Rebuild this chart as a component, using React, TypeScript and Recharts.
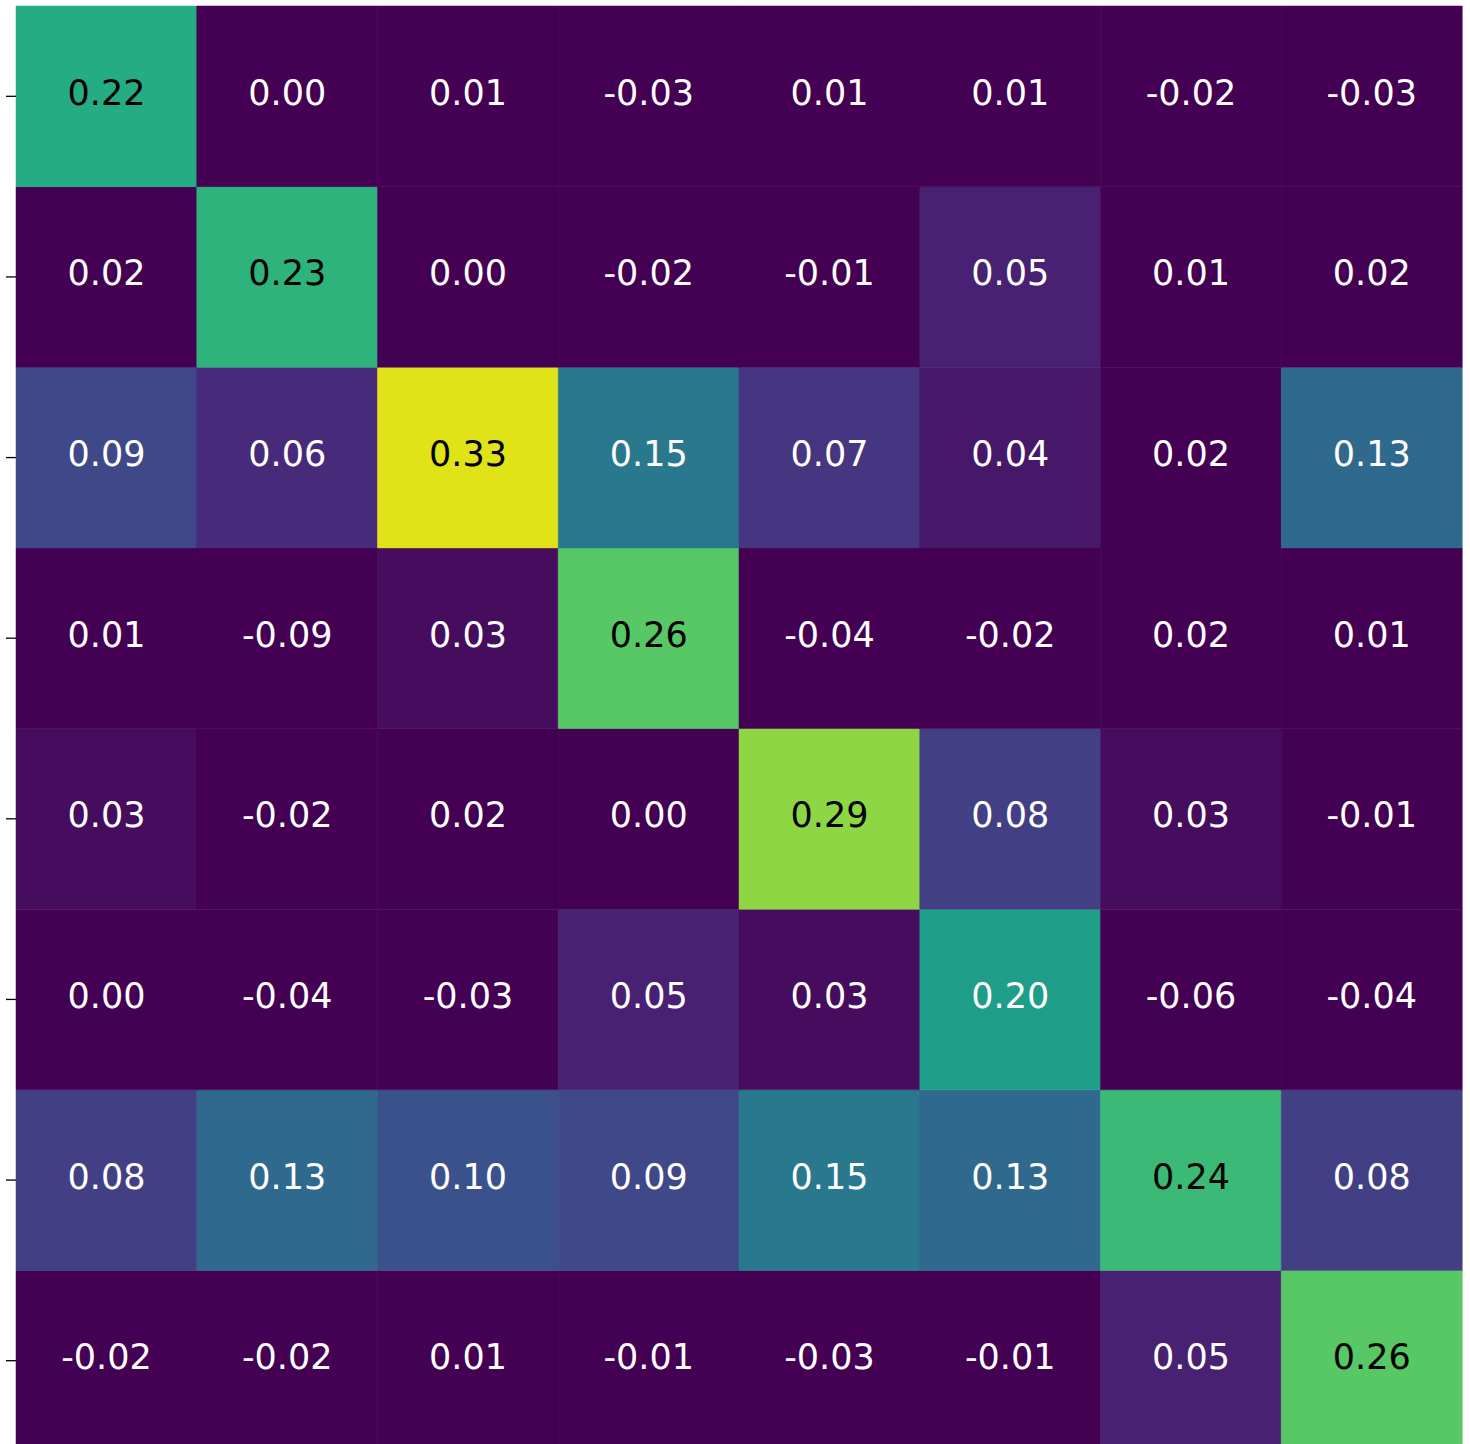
import { BarChart, Bar, XAxis, YAxis, Cell, LabelList } from "recharts";

// column categories of the matrix
const columns = ["c1", "c2", "c3", "c4", "c5", "c6", "c7", "c8"];

// matrix rows, top to bottom
const row1 = [0.22, 0.0, 0.01, -0.03, 0.01, 0.01, -0.02, -0.03];
const row2 = [0.02, 0.23, 0.0, -0.02, -0.01, 0.05, 0.01, 0.02];
const row3 = [0.09, 0.06, 0.33, 0.15, 0.07, 0.04, 0.02, 0.13];
const row4 = [0.01, -0.09, 0.03, 0.26, -0.04, -0.02, 0.02, 0.01];
const row5 = [0.03, -0.02, 0.02, 0.0, 0.29, 0.08, 0.03, -0.01];
const row6 = [0.0, -0.04, -0.03, 0.05, 0.03, 0.2, -0.06, -0.04];
const row7 = [0.08, 0.13, 0.1, 0.09, 0.15, 0.13, 0.24, 0.08];
const row8 = [-0.02, -0.02, 0.01, -0.01, -0.03, -0.01, 0.05, 0.26];

const rows = [row1, row2, row3, row4, row5, row6, row7, row8];

// y tick positions (row centres), no labels shown
const yTicks = [0.5, 1.5, 2.5, 3.5, 4.5, 5.5, 6.5, 7.5];

const VMIN = 0.02;
const VMAX = 0.345;

const VIRIDIS = [
  "#440154", "#471365", "#482475", "#463480", "#414487", "#3b528b",
  "#355f8d", "#2f6c8e", "#2a788e", "#25848e", "#21918c", "#1e9c89",
  "#22a884", "#2fb47c", "#44bf70", "#5ec962", "#7ad151", "#9bd93c",
  "#bddf26", "#dfe318", "#fde725",
];

const hexToRgb = (h: string) => [
  parseInt(h.slice(1, 3), 16),
  parseInt(h.slice(3, 5), 16),
  parseInt(h.slice(5, 7), 16),
];

const viridis = (v: number) => {
  let t = (v - VMIN) / (VMAX - VMIN);
  t = Math.max(0, Math.min(1, t));
  const pos = t * (VIRIDIS.length - 1);
  const i = Math.min(Math.floor(pos), VIRIDIS.length - 2);
  const f = pos - i;
  const a = hexToRgb(VIRIDIS[i]);
  const b = hexToRgb(VIRIDIS[i + 1]);
  const c = a.map((x, k) => Math.round(x + (b[k] - x) * f));
  return `rgb(${c[0]},${c[1]},${c[2]})`;
};

const textColor = (v: number) => ((v - VMIN) / (VMAX - VMIN) > 0.6 ? "#000" : "#fff");

// one unit-height stacked segment per cell
const data = columns.map((col) => {
  const d: Record<string, string | number> = { col };
  rows.forEach((_, r) => {
    d[`r${r}`] = 1;
  });
  return d;
});

// stack from the bottom row upwards
const stackOrder = [7, 6, 5, 4, 3, 2, 1, 0];

// tick mark only, no label
const TickMark = (p: any) => (
  <line x1={p.x - 10} x2={p.x} y1={p.y} y2={p.y} stroke="#000" strokeWidth={1.3} />
);

const App = () => {
  return (
    <div style={{ position: "absolute", left: 0, top: 0 }}>
      <BarChart
        width={1470}
        height={1451}
        data={data}
        margin={{ top: 6, right: 8, bottom: 0, left: 0 }}
        barCategoryGap={0}
        barGap={0}
      >
        <XAxis dataKey="col" hide />
        <YAxis
          type="number"
          domain={[0, 8]}
          ticks={yTicks}
          width={16}
          tickSize={0}
          tickMargin={0}
          tick={<TickMark />}
          axisLine={false}
          tickLine={false}
        />
        {stackOrder.map((r) => (
          <Bar
            key={r}
            dataKey={`r${r}`}
            stackId="m"
            isAnimationActive={false}
          >
            {rows[r].map((v, i) => (
              <Cell key={i} fill={viridis(v)} stroke={viridis(v)} strokeWidth={0.5} />
            ))}
            <LabelList
              dataKey={`r${r}`}
              content={(p: any) => {
                const v = rows[r][p.index];
                return (
                  <text
                    x={p.x + p.width / 2}
                    y={p.y + p.height / 2 + 8.5}
                    textAnchor="middle"
                    fontFamily="DejaVu Sans"
                    fontSize={35}
                    fill={textColor(v)}
                  >
                    {v.toFixed(2)}
                  </text>
                );
              }}
            />
          </Bar>
        ))}
      </BarChart>
    </div>
  );
};

export default App;
